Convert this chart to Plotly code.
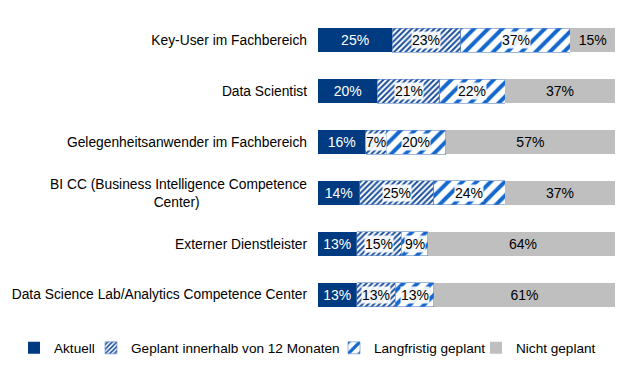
import plotly.graph_objects as go

NBSP = "\u00a0"
categories = [
    "Key-User im Fachbereich",
    "Data Scientist",
    "Gelegenheitsanwender im Fachbereich",
    "BI CC (Business Intelligence Competence<br>Center)" + NBSP * 28,
    "Externer Dienstleister",
    "Data Science Lab/Analytics Competence Center",
]
series_names = ["Aktuell", "Geplant innerhalb von 12 Monaten", "Langfristig geplant", "Nicht geplant"]
aktuell = [25, 20, 16, 14, 13, 13]
geplant12 = [23, 21, 7, 25, 15, 13]
langfristig = [37, 22, 20, 24, 9, 13]
nicht = [15, 37, 57, 37, 64, 61]

values = [aktuell, geplant12, langfristig, nicht]
FONT = "Arial, Liberation Sans, sans-serif"
W, H = 630, 368

styles = [
    dict(color="#003A80", pattern=None, textcolor="white"),
    dict(color="white", pattern=dict(shape="/", fgcolor="#1A4E9A", bgcolor="white", size=4, solidity=0.5),
         textcolor="black"),
    dict(color="white", pattern=dict(shape="/", fgcolor="#1467CC", bgcolor="white", size=10, solidity=0.4),
         textcolor="black"),
    dict(color="#BFBFBF", pattern=None, textcolor="black"),
]
legend_ids = ["legend", "legend2", "legend3", "legend4"]
legend_text_x = [54, 131, 374, 516]  # pixel where each legend text starts

fig = go.Figure()
for name, vals, st, lid in zip(series_names, values, styles, legend_ids):
    marker = dict(color=st["color"], line=dict(width=0))
    if st["pattern"]:
        marker["pattern"] = dict(st["pattern"], fillmode="replace", fgopacity=1)
        marker["line"] = dict(width=0.6, color="#5A86C8")
    fig.add_trace(go.Bar(
        y=categories, x=vals, name=name, orientation="h", marker=marker,
        text=[f"{v}%" for v in vals] if not st["pattern"] else None,
        textposition="inside", insidetextanchor="middle",
        textfont=dict(color=st["textcolor"], size=14, family=FONT),
        hoverinfo="skip", legend=lid,
    ))

annotations = []
for si in (1, 2):
    for ci, cat in enumerate(categories):
        left = sum(values[k][ci] for k in range(si))
        v = values[si][ci]
        annotations.append(dict(
            x=left + v / 2, y=cat, xref="x", yref="y", text=f"{v}%", showarrow=False,
            font=dict(size=14, color="black", family=FONT),
            bgcolor="rgba(255,255,255,0.9)", borderpad=0,
        ))

layout_legends = {}
for lid, tx in zip(legend_ids, legend_text_x):
    layout_legends[lid] = dict(
        orientation="h", xref="container", yref="container",
        x=(tx - 40) / W, xanchor="left", y=1 - 348 / H, yanchor="middle",
        font=dict(size=13.6, family=FONT, color="black"), bgcolor="rgba(0,0,0,0)",
        borderwidth=0,
    )

fig.update_layout(
    width=W, height=H,
    barmode="stack", bargap=0.53,
    margin=dict(l=318, r=15, t=15, b=48, autoexpand=False),
    plot_bgcolor="white", paper_bgcolor="white",
    font=dict(family=FONT, size=13.5, color="black"),
    xaxis=dict(range=[0, 100], visible=False, fixedrange=True),
    yaxis=dict(autorange="reversed", showgrid=False, ticks="", automargin=False,
               ticklabelstandoff=10,
               tickfont=dict(size=13.8, family=FONT, color="black")),
    annotations=annotations,
    showlegend=True,
    **layout_legends,
)

fig.write_html("out.html", config={"displayModeBar": False},
               post_script="document.body.style.margin='0';")
